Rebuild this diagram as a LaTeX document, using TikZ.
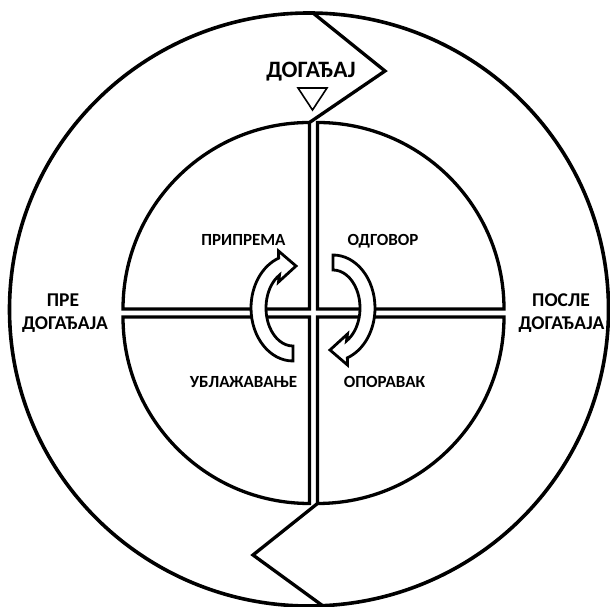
\documentclass[tikz,border=0pt]{standalone}
\usepackage{fontspec}
\setmainfont{Carlito}[BoldFont={Carlito Bold}]
\usepackage{xcolor}
\usepackage{tikz}
\usetikzlibrary{positioning}
\definecolor{linija}{HTML}{000000}
\definecolor{pozadina}{HTML}{FFFFFF}
\tikzset{
  obod/.style={draw=linija, line width=3.6pt},
  kvadrant/.style={draw=linija, line width=3.3pt, line join=miter, fill=pozadina},
  cikcak/.style={draw=linija, line width=3.3pt, line join=miter},
  trougao/.style={draw=linija, line width=1.6pt, line join=miter},
  strelica/.style={draw=linija, line width=2.8pt, line join=miter, fill=pozadina},
  naslov/.style={font=\fontsize{23.5}{28}\selectfont\bfseries, text=linija, inner sep=0pt},
  strana/.style={font=\fontsize{19.5}{23}\selectfont\bfseries, text=linija, inner sep=0pt},
  faza/.style={font=\fontsize{17}{20}\selectfont\bfseries, text=linija, inner sep=0pt},
}

\begin{document}
\begin{tikzpicture}[x=1pt, y=1pt]
    \useasboundingbox (0,0) rectangle (610,607);

    % spoljni krug
    \draw[obod] (309,297.5) ellipse [x radius=299.5pt, y radius=296.5pt];

    % cetiri kvadranta
    \coordinate (centar) at (313.5,294);
    \draw[kvadrant] ([shift={(4,4)}]centar) -- ++(186.5,0)
      arc[start angle=0, end angle=90, radius=186.5pt] -- cycle;
    \draw[kvadrant] ([shift={(-4,4)}]centar) -- ++(0,186.5)
      arc[start angle=90, end angle=180, radius=186.5pt] -- cycle;
    \draw[kvadrant] ([shift={(-4,-4)}]centar) -- ++(-186.5,0)
      arc[start angle=180, end angle=270, radius=186.5pt] -- cycle;
    \draw[kvadrant] ([shift={(4,-4)}]centar) -- ++(0,-186.5)
      arc[start angle=270, end angle=360, radius=186.5pt] -- cycle;

    % prelom dogadjaja
    \coordinate (vrh) at (313,594);
    \coordinate (prelomgore) at (385,536);
    \coordinate (kgore) at (309.5,484.5);
    \coordinate (kdole) at (317.5,103.5);
    \coordinate (prelomdole) at (253,52);
    \coordinate (dno) at (323,1);
    \draw[cikcak] (vrh) -- (prelomgore) -- (kgore);
    \draw[cikcak] (kdole) -- (prelomdole) -- (dno);

    % oznaka trenutka
    \coordinate (tl) at (298,519);
    \coordinate (td) at (327,519);
    \coordinate (tv) at (312.5,497);
    \draw[trougao] (tl) -- (td) -- (tv) -- cycle;

    % kruzne strelice
    \draw[strelica, shift={(293,299)}] (0,-53)
      arc[start angle=270, end angle=110, x radius=42pt, y radius=53pt]
      -- (-14.5,57) -- (3,42) -- (-14.5,26) -- (-13.5,32.9)
      arc[start angle=120, end angle=270, x radius=27pt, y radius=38pt] -- cycle;
    \draw[strelica, shift={(333,299)}, rotate=180] (0,-53)
      arc[start angle=270, end angle=110, x radius=42pt, y radius=53pt]
      -- (-14.5,57) -- (3,42) -- (-14.5,26) -- (-13.5,32.9)
      arc[start angle=120, end angle=270, x radius=27pt, y radius=38pt] -- cycle;

    % natpisi
    \node[naslov, anchor=base] (dogadjaj) at (311,529) {ДОГАЂАЈ};
    \node[strana, anchor=base] (pre) at (63,300) {ПРЕ};
    \node[strana, anchor=base] (predog) at (65,277) {ДОГАЂАЈА};
    \node[strana, anchor=base] (posle) at (561,300) {ПОСЛЕ};
    \node[strana, anchor=base] (posledog) at (561.5,277) {ДОГАЂАЈА};
    \node[faza, anchor=base] (priprema) at (243.5,361) {ПРИПРЕМА};
    \node[faza, anchor=base] (odgovor) at (383,361) {ОДГОВОР};
    \node[faza, anchor=base] (ublazavanje) at (243.5,219) {УБЛАЖАВАЊЕ};
    \node[faza, anchor=base] (oporavak) at (384.5,219) {ОПОРАВАК};
\end{tikzpicture}
\end{document}
